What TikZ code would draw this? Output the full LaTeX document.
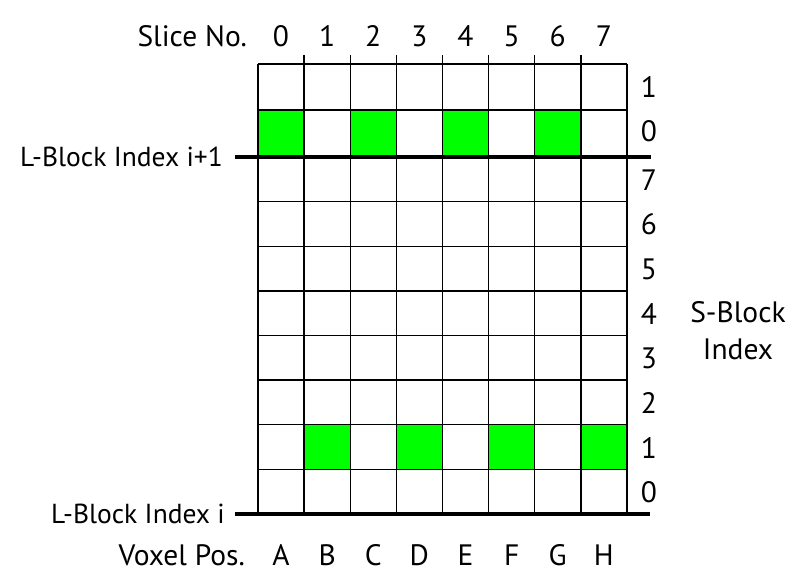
\documentclass[tikz,border=0pt]{standalone}
\usepackage{fontspec}
\setmainfont{PT Sans}
\usetikzlibrary{positioning,calc}
\definecolor{cellgreen}{RGB}{0,255,0}

\begin{document}
\begin{tikzpicture}[x=1pt,y=-1pt,font=\fontsize{29.5}{37}\selectfont,
		gridline/.style={draw=black,line width=1.4pt},
		greencell/.style={draw=black,line width=1.4pt,fill=cellgreen},
		lblock/.style={line width=4.5pt},
		lbl/.style={inner sep=0pt}]
	\useasboundingbox (0,0) rectangle (808,577);
	% green cells: slice parity against S-block index
	\foreach \c in {0,2,4,6}
		\draw[greencell] ({258+46.125*\c},110) rectangle ++(46.125,47);
	\foreach \c in {1,3,5,7}
		\draw[greencell] ({258+46.125*\c},424.7) rectangle ++(46.125,44.6);
	% grid
	\foreach \r in {64,110,157,201.6,246.3,290.9,335.5,380.1,424.7,469.3,514}
		\draw[gridline] (258,\r) -- (627,\r);
	\draw[gridline] (258,64) -- (258,514);
	\draw[gridline] (627,64) -- (627,514);
	\foreach \c in {1,...,7}
		\draw[gridline] ({258+46.125*\c},55) -- ({258+46.125*\c},514);
	% top labels
	\node[lbl,anchor=east] (slice) at (247,36) {Slice No.};
	\foreach \n in {0,...,7}
		\node[lbl] (s\n) at ({281+46.125*\n},36) {\n};
	% bottom labels
	\node[lbl,anchor=east] (voxel) at (245,555) {Voxel Pos.};
	\foreach \v [count=\i from 0] in {A,B,C,D,E,F,G,H}
		\node[lbl] (v\v) at ({281+46.125*\i},555) {\v};
	% S-block index column
	\node[lbl] (up1) at (649,87) {1};
	\node[lbl] (up0) at (649,131) {0};
	\foreach \n [count=\i from 0] in {7,6,5,4,3,2,1,0}
		\node[lbl] (lo\n) at (649,{180+44.6*\i}) {\n};
	\node[lbl,align=center] (sblock) at (738,331) {S-Block\\Index};
	% L-block boundaries
	\node[lbl,anchor=east,font=\fontsize{27.5}{33}\selectfont] (lbnext) at (223,157) {L-Block Index i+1};
	\node[lbl,anchor=east,font=\fontsize{27.5}{33}\selectfont] (lbcur) at (225,514) {L-Block Index i};
	\coordinate (nextend) at (651,157);
	\coordinate (curend) at (650,514);
	\draw[lblock] ([xshift=12pt]lbnext.east) -- (nextend);
	\draw[lblock] ([xshift=10pt]lbcur.east) -- (curend);
\end{tikzpicture}
\end{document}
